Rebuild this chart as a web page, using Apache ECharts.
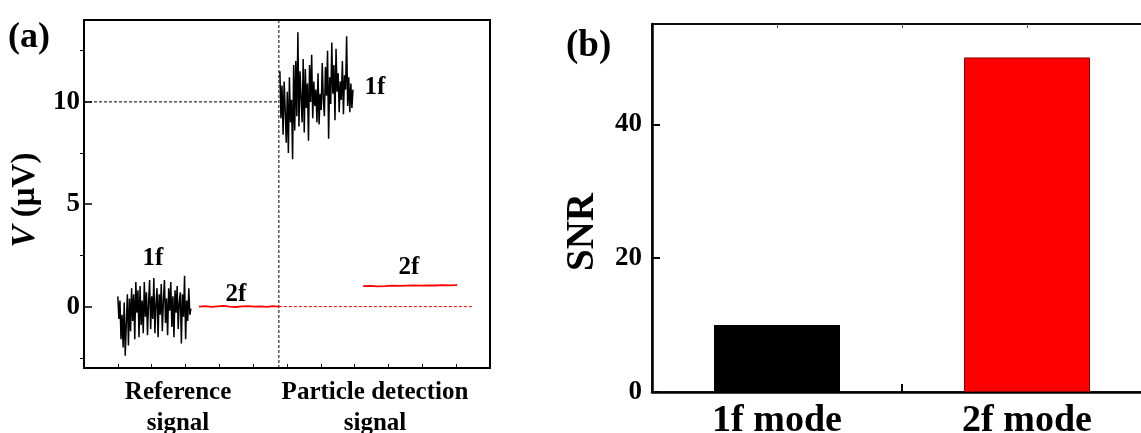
<!DOCTYPE html>
<html>
<head>
<meta charset="utf-8">
<script src="https://cdn.jsdelivr.net/npm/echarts@6/dist/echarts.min.js"></script>
<style>
  html, body { margin: 0; padding: 0; background: #fff; }
  #main { width: 1141px; height: 433px; }
</style>
</head>
<body>
<div id="main"></div>
<script>
// panel (a): signal traces, x in arbitrary position units (0..12)
var ref1f = [0.5, -0.6, 0.3, -1.6, -0.4, -2.0, 0.2, -2.4, -0.8, 0.6, -1.9, 0.4, -1.2, 0.9, -0.7, 0.6,
  -1.6, 1.2, -0.3, 0.8, -1.5, 1.0, -0.9, 0.3, -1.3, 1.2, -0.5, 0.7, -1.4, 0.2, 1.3, -1.1, 0.5, -0.6,
  1.4, -1.3, 0.1, 0.9, -1.5, 0.6, -0.4, 1.1, -1.2, 0.3, 1.3, -0.8, 0.4, -1.4, 0.9, -0.2, 1.2, -1.0,
  0.5, -1.5, 0.8, -0.3, 1.0, -1.1, 0.2, 0.7, -1.8, 0.6, -0.5, 1.5, -1.6, 0.3, -0.7, 0.9, -0.4, -0.1]
var part1f = [11.5, 9.2, 10.8, 8.4, 11.0, 9.6, 8.0, 10.5, 7.5, 11.2, 9.0, 10.1, 7.2, 11.8, 8.6, 12.0,
  9.3, 13.4, 8.8, 11.5, 10.2, 9.0, 12.1, 8.5, 11.6, 9.7, 10.9, 8.1, 11.8, 10.0, 12.3, 9.2, 11.0, 9.8,
  10.6, 9.0, 11.4, 8.9, 10.4, 9.6, 11.9, 10.1, 9.3, 11.7, 10.3, 12.5, 8.2, 11.2, 9.9, 12.9, 10.4, 11.8,
  9.1, 12.6, 10.5, 11.4, 9.5, 11.0, 10.1, 12.0, 9.4, 11.3, 10.6, 13.2, 9.8, 11.2, 9.5, 10.9, 9.7, 10.6]
var ref2f = [0.0, 0.02, -0.01, 0.01, 0.03, 0.0, -0.02, 0.01, 0.02, 0.0, 0.01, -0.01, 0.02, 0.0]
var part2f = [1.0, 1.01, 0.99, 1.0, 1.02, 1.01, 1.02, 1.03, 1.02, 1.04, 1.03, 1.05, 1.04, 1.05]
var ref1fRange = [1.0, 3.16]
var ref2fRange = [3.4, 5.76]
var part1fRange = [5.79, 7.95]
var part2fRange = [8.25, 11.03]
var splitX = 5.76
var zeroLineEnd = 11.5
var sigCats = ['Reference\nsignal', 'Particle detection\nsignal']
var sigCatPos = [2.78, 8.6]
var yTicksA = [0, 5, 10]
var yMinorA = [-2.5, 2.5, 7.5, 12.5]
var notes = [[2.04, 2.34, '1f'], [4.49, 0.59, '2f'], [8.6, 10.68, '1f'], [9.6, 1.9, '2f']]

// panel (b): SNR bars
var modes = ['1f mode', '2f mode']
var modePos = [1, 2]
var snr = [10, 50]
var yTicksB = [0, 20, 40]
var yMinorB = [10, 30, 50]

function spread(vals, range) {
  var step = (range[1] - range[0]) / (vals.length - 1)
  return vals.map(function (v, i) { return [range[0] + i * step, v] })
}

var FONT = "'Liberation Serif', 'Times New Roman', serif"
var chart = echarts.init(document.getElementById('main'))
var option = {
  animation: false,
  backgroundColor: '#fff',
  grid: [
    { left: 84, top: 20, width: 406, height: 348, show: true, borderColor: '#000', borderWidth: 2, outerBoundsMode: 'none' },
    { left: 652, top: 24, width: 500, height: 368, show: true, borderColor: '#000', borderWidth: 1.5, outerBoundsMode: 'none' },
  ],
  xAxis: [
    {
      gridIndex: 0, type: 'value', min: 0, max: 12, interval: 1,
      axisLine: { show: true, onZero: false, lineStyle: { color: '#000', width: 2 } },
      axisTick: { show: true, inside: true, length: 4, lineStyle: { color: '#000', width: 1 } },
      splitLine: { show: false },
      axisLabel: {
        customValues: sigCatPos, margin: 9, color: '#000', fontFamily: FONT, fontWeight: 'bold',
        fontSize: 25, lineHeight: 31,
        formatter: function (v) { return sigCats[sigCatPos.indexOf(v)] },
      },
    },
    {
      gridIndex: 1, type: 'value', min: 0.5, max: 2.5, interval: 0.5,
      axisLine: { show: true, onZero: false, lineStyle: { color: '#000', width: 2.5 } },
      axisTick: { show: true, inside: true, length: 8, customValues: [1, 1.5, 2], lineStyle: { color: '#000', width: 2 } },
      splitLine: { show: false },
      axisLabel: {
        customValues: modePos, margin: 10, color: '#000', fontFamily: FONT, fontWeight: 'bold', fontSize: 38,
        formatter: function (v) { return modes[modePos.indexOf(v)] },
      },
    },
    {
      gridIndex: 1, type: 'value', min: 0.5, max: 2.5, position: 'top',
      axisLine: { show: true, onZero: false, lineStyle: { color: '#000', width: 1.5 } },
      axisTick: { show: true, inside: true, length: 4, customValues: [1, 1.5, 2], lineStyle: { color: '#555', width: 1 } },
      splitLine: { show: false },
      axisLabel: { show: false },
    },
  ],
  yAxis: [
    {
      gridIndex: 0, type: 'value', min: -3, max: 14,
      name: '{it|V} (μV)', nameLocation: 'middle', nameGap: 42,
      nameTextStyle: {
        color: '#000', fontFamily: FONT, fontWeight: 'bold', fontSize: 33, padding: [0, 12, 0, 0],
        rich: { it: { fontStyle: 'italic', fontWeight: 'bold', fontFamily: FONT, fontSize: 33, color: '#000' } },
      },
      axisLine: { show: true, onZero: false, lineStyle: { color: '#000', width: 2 } },
      axisTick: { show: true, inside: true, length: 8, customValues: yTicksA, lineStyle: { color: '#000', width: 1.5 } },
      splitLine: { show: false },
      axisLabel: { customValues: yTicksA, margin: 4, color: '#000', fontFamily: FONT, fontWeight: 'bold', fontSize: 27 },
    },
    {
      gridIndex: 0, type: 'value', min: -3, max: 14,
      axisLine: { show: false },
      axisTick: { show: true, inside: true, length: 4, customValues: yMinorA, lineStyle: { color: '#000', width: 1 } },
      splitLine: { show: false },
      axisLabel: { show: false },
    },
    {
      gridIndex: 1, type: 'value', min: 0, max: 55,
      name: 'SNR', nameLocation: 'middle', nameGap: 50,
      nameTextStyle: { color: '#000', fontFamily: FONT, fontWeight: 'bold', fontSize: 39, padding: [0, 48, 0, 0] },
      axisLine: { show: true, onZero: false, lineStyle: { color: '#000', width: 2.5 } },
      axisTick: { show: true, inside: true, length: 8, customValues: yTicksB, lineStyle: { color: '#000', width: 2 } },
      splitLine: { show: false },
      axisLabel: { customValues: yTicksB, margin: 10, color: '#000', fontFamily: FONT, fontWeight: 'bold', fontSize: 27 },
    },
    {
      gridIndex: 1, type: 'value', min: 0, max: 55,
      axisLine: { show: false },
      axisTick: { show: true, inside: true, length: 4, customValues: yMinorB, lineStyle: { color: '#000', width: 1.5 } },
      splitLine: { show: false },
      axisLabel: { show: false },
    },
  ],
  series: [
    {
      type: 'line', xAxisIndex: 0, yAxisIndex: 0, data: [[0, 10], [splitX, 10]], symbol: 'none', silent: true,
      lineStyle: { color: '#000', width: 1, type: [3, 2] },
    },
    {
      type: 'line', xAxisIndex: 0, yAxisIndex: 0, data: [[splitX, -3], [splitX, 14]], symbol: 'none', silent: true,
      lineStyle: { color: '#000', width: 1, type: [3, 2] },
    },
    {
      type: 'line', xAxisIndex: 0, yAxisIndex: 0, data: [[splitX, 0], [zeroLineEnd, 0]], symbol: 'none', silent: true,
      lineStyle: { color: '#ff0000', width: 1, type: [3, 2] },
    },
    {
      type: 'line', xAxisIndex: 0, yAxisIndex: 0, data: spread(ref1f, ref1fRange), symbol: 'none',
      lineStyle: { color: '#000', width: 1.5 },
    },
    {
      type: 'line', xAxisIndex: 0, yAxisIndex: 0, data: spread(ref2f, ref2fRange), symbol: 'none',
      lineStyle: { color: '#ff0000', width: 1.8 },
    },
    {
      type: 'line', xAxisIndex: 0, yAxisIndex: 0, data: spread(part1f, part1fRange), symbol: 'none',
      lineStyle: { color: '#000', width: 1.5 },
    },
    {
      type: 'line', xAxisIndex: 0, yAxisIndex: 0, data: spread(part2f, part2fRange), symbol: 'none',
      lineStyle: { color: '#ff0000', width: 1.8 },
    },
    {
      type: 'bar', xAxisIndex: 1, yAxisIndex: 2, barWidth: 126,
      data: modePos.map(function (x, i) {
        return {
          value: [x, snr[i]],
          itemStyle: i === 0
            ? { color: '#000' }
            : { color: '#ff0000', borderColor: '#8a0000', borderWidth: 1 },
        }
      }),
    },
  ],
}
chart.setOption(option)

// panel letters and the 1f / 2f notes, the notes placed through the axes of panel (a)
var texts = [
  { type: 'text', left: 8, top: 20, style: { text: '(a)', font: 'bold 36px ' + FONT, fill: '#000' } },
  { type: 'text', left: 566, top: 28, style: { text: '(b)', font: 'bold 37px ' + FONT, fill: '#000' } },
]
notes.forEach(function (n) {
  var p = chart.convertToPixel({ xAxisIndex: 0, yAxisIndex: 0 }, [n[0], n[1]])
  texts.push({
    type: 'text', x: p[0], y: p[1],
    style: { text: n[2], font: 'bold 25px ' + FONT, fill: '#000', align: 'center', verticalAlign: 'middle' },
  })
})
chart.setOption({ graphic: texts })
</script>
</body>
</html>
